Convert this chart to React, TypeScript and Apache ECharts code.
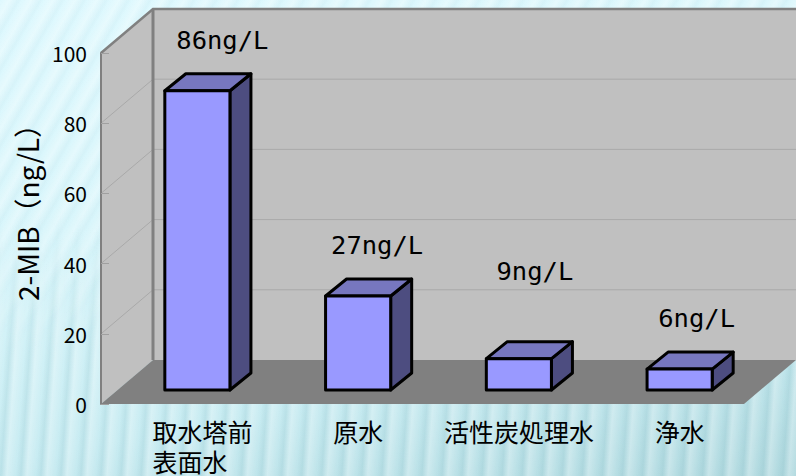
import React, { useEffect, useRef } from "react";
import * as echarts from "echarts";

// Odour compound measured along the treatment line
const categories = ["取水塔前\n表面水", "原水", "活性炭処理水", "浄水"];
const concentrations = [86, 27, 9, 6];
const valueTicks = [0, 20, 40, 60, 80, 100];
const unit = "ng/L";
const axisTitle = "2-MIB（ng/L）";

const JP = '"Noto Sans CJK JP", "Noto Sans", sans-serif';

// Offset of the back wall from the front plane, and of a bar's back face from its front face
const WALL_DX = 52;
const WALL_DY = -44;
const BAR_DX = 21;
const BAR_DY = -17;

// Walls, floor and gridlines of the 3D box, built on the front-plane scale
function renderBox(params: any, api: any) {
  if (params.dataIndex !== 0) return null as any;
  const cs = params.coordSys;
  const L = cs.x, R = cs.x + cs.width, T = cs.y, B = cs.y + cs.height;
  const children: any[] = [
    {
      type: "polygon",
      shape: { points: [[L + WALL_DX, T + WALL_DY], [R + WALL_DX, T + WALL_DY], [R + WALL_DX, B + WALL_DY], [L + WALL_DX, B + WALL_DY]] },
      style: { fill: "#c0c0c0" },
    },
    {
      type: "polygon",
      shape: { points: [[L, T], [L + WALL_DX, T + WALL_DY], [L + WALL_DX, B + WALL_DY], [L, B]] },
      style: { fill: "#c0c0c0" },
    },
    {
      type: "polygon",
      shape: { points: [[L, B], [R, B], [R + WALL_DX, B + WALL_DY], [L + WALL_DX, B + WALL_DY]] },
      style: { fill: "#808080" },
    },
  ];
  valueTicks.slice(1, -1).forEach((v) => {
    const y = api.coord([0, v])[1];
    children.push({
      type: "polyline",
      shape: { points: [[L, y], [L + WALL_DX, y + WALL_DY], [R + WALL_DX, y + WALL_DY]] },
      style: { fill: "none", stroke: "#a9a9a9", lineWidth: 1 },
    });
  });
  children.push(
    {
      type: "polyline",
      shape: { points: [[L, T], [L + WALL_DX, T + WALL_DY], [R + WALL_DX, T + WALL_DY]] },
      style: { fill: "none", stroke: "#808080", lineWidth: 2.5 },
    },
    {
      type: "line",
      shape: { x1: L + WALL_DX, y1: T + WALL_DY, x2: L + WALL_DX, y2: B + WALL_DY },
      style: { stroke: "#808080", lineWidth: 3 },
    }
  );
  return { type: "group", children };
}

// Hand-placed data labels: the third one sits well clear of its bar
function labelLift(index: number) {
  return index === 2 ? 70 : 33;
}
function labelShift(index: number) {
  return [25, 19, 16, 17][index];
}

// One prism: front, top and side faces with a black outline
function renderPrism(params: any, api: any) {
  const idx = api.value(0);
  const val = api.value(1);
  const base = api.coord([idx, 0]);
  const top = api.coord([idx, val]);
  const w = api.size([1, 0])[0] * 0.405;
  const l = base[0] - w / 2, r = base[0] + w / 2;
  const t = top[1], b = base[1];
  const edge = { stroke: "#000", lineWidth: 3, lineJoin: "round" };
  return {
    type: "group",
    children: [
      {
        type: "polygon",
        shape: { points: [[r, t], [r + BAR_DX, t + BAR_DY], [r + BAR_DX, b + BAR_DY], [r, b]] },
        style: { fill: "#4d4d80", ...edge },
      },
      {
        type: "polygon",
        shape: { points: [[l, t], [l + BAR_DX, t + BAR_DY], [r + BAR_DX, t + BAR_DY], [r, t]] },
        style: { fill: "#7777bf", ...edge },
      },
      {
        type: "rect",
        shape: { x: l, y: t, width: w, height: b - t },
        style: { fill: "#9999ff", ...edge },
      },
      {
        type: "text",
        style: {
          x: base[0] + labelShift(params.dataIndex),
          y: t + BAR_DY - labelLift(params.dataIndex) - 1,
          text: `${val}${unit}`,
          align: "center",
          verticalAlign: "middle",
          fill: "#000",
          font: '25.5px "DejaVu Sans Mono", monospace',
        },
      },
    ],
  };
}

export default function App() {
  const ref = useRef<HTMLDivElement>(null);

  useEffect(() => {
    document.body.style.margin = "0";
    const chart = echarts.init(ref.current!, undefined, { renderer: "svg" });
    const labelToken = { align: "left", fontFamily: JP, fontSize: 25, lineHeight: 30, color: "#000" };
    chart.setOption({
      animation: false,
      backgroundColor: "transparent",
      // Grid 0 is the front plane of the box; grid 1 is the plane the bars stand on
      grid: [
        { left: 101, top: 53, width: 643, height: 351, outerBoundsMode: "none" },
        { left: 117, top: 42, width: 643, height: 348, outerBoundsMode: "none" },
      ],
      xAxis: [
        {
          type: "category",
          gridIndex: 0,
          data: categories,
          axisLine: { show: false },
          axisLabel: { show: false },
          axisTick: { inside: true, length: 8, lineStyle: { color: "#a0a0a0", width: 1 } },
          z: 5,
        },
        {
          type: "category",
          gridIndex: 1,
          data: categories,
          axisLine: { show: false },
          axisTick: { show: false },
          axisLabel: {
            margin: 26,
            interval: 0,
            color: "#000",
            fontFamily: JP,
            fontSize: 25,
            lineHeight: 30,
            // The two-line label is set flush left and nudged off its band centre
            formatter: (s: string) => {
              const key = s.includes("\n") ? "m" : "l";
              return s.split("\n").map((line) => `{${key}|${line}}`).join("\n");
            },
            rich: {
              l: labelToken,
              m: { ...labelToken, padding: [0, 0, 0, 10] },
            },
          },
        },
      ],
      yAxis: [
        {
          type: "value",
          gridIndex: 0,
          min: 0,
          max: 100,
          interval: 20,
          name: axisTitle,
          nameLocation: "middle",
          nameGap: 36,
          nameRotate: 90,
          nameTextStyle: { color: "#000", fontFamily: JP, fontSize: 28, padding: [0, 0, 0, 46] },
          axisLine: { show: true, lineStyle: { color: "#808080", width: 2 } },
          axisTick: { show: true, inside: true, length: 8, lineStyle: { color: "#a0a0a0", width: 1 } },
          axisLabel: { color: "#000", margin: 14, fontFamily: JP, fontSize: 21 },
          splitLine: { show: false },
          z: 5,
        },
        {
          type: "value",
          gridIndex: 1,
          min: 0,
          max: 100,
          show: false,
          splitLine: { show: false },
        },
      ],
      series: [
        {
          type: "custom",
          xAxisIndex: 0,
          yAxisIndex: 0,
          renderItem: renderBox,
          data: [[0, 0]],
          silent: true,
          z: 1,
        },
        {
          type: "custom",
          xAxisIndex: 1,
          yAxisIndex: 1,
          renderItem: renderPrism,
          data: concentrations.map((v, i) => [i, v]),
          encode: { x: 0, y: 1 },
          z: 3,
        },
      ],
    });
    return () => chart.dispose();
  }, []);

  const stripesTop =
    "repeating-linear-gradient(120deg, rgba(255,255,255,0) 0px, rgba(255,255,255,0.3) 8px, rgba(190,225,235,0.18) 16px, rgba(255,255,255,0) 19px)";
  const stripesBottom =
    "repeating-linear-gradient(94deg, rgba(255,255,255,0.28) 0px, rgba(255,255,255,0) 9px, rgba(120,175,185,0.16) 14px, rgba(255,255,255,0.28) 20px)";

  return (
    <div
      style={{
        position: "relative",
        width: 796,
        height: 476,
        overflow: "hidden",
        background: "linear-gradient(168deg, #dff9fe 0%, #d9f6fb 38%, #c8ecf2 72%, #b0d9df 100%)",
      }}
    >
      <div
        style={{
          position: "absolute",
          inset: 0,
          background: stripesTop,
          WebkitMaskImage: "linear-gradient(to bottom, #000 0%, #000 45%, transparent 75%)",
          maskImage: "linear-gradient(to bottom, #000 0%, #000 45%, transparent 75%)",
        }}
      />
      <div
        style={{
          position: "absolute",
          inset: 0,
          background: stripesBottom,
          WebkitMaskImage: "linear-gradient(to bottom, transparent 45%, #000 75%)",
          maskImage: "linear-gradient(to bottom, transparent 45%, #000 75%)",
        }}
      />
      <div ref={ref} style={{ position: "absolute", left: 0, top: 0, width: 796, height: 476 }} />
    </div>
  );
}
